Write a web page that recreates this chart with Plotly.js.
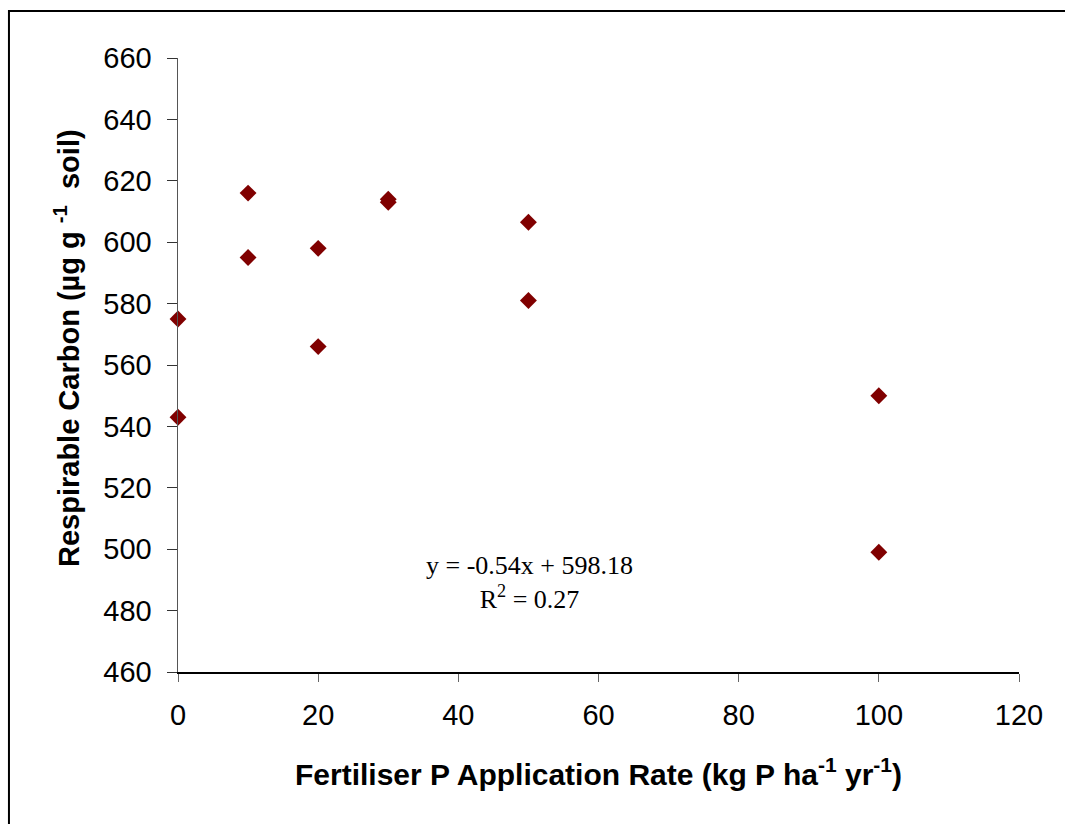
<!DOCTYPE html>
<html>
<head>
<meta charset="utf-8">
<script src="https://cdn.plot.ly/plotly-3.0.1.min.js"></script>
<style>html,body{margin:0;padding:0;background:#fff;}#chart{width:1065px;height:824px;}</style>
</head>
<body>
<div id="chart"></div>
<script>
const rateX = [0, 0, 10, 10, 20, 20, 30, 30, 50, 50, 100, 100];
const carbonY = [575, 543, 616, 595, 598, 566, 614, 613, 606.5, 581, 550, 499];
const xTicks = [0, 20, 40, 60, 80, 100, 120];
const yTicks = [460, 480, 500, 520, 540, 560, 580, 600, 620, 640, 660];
const eqText = "y = -0.54x + 598.18<br>R<sup>2</sup> = 0.27";
const xTitle = 'Fertiliser P Application Rate (kg P ha<sup>-1</sup>&nbsp;yr<sup>-1</sup>)';
const yTitle = 'Respirable Carbon (µg g&nbsp;<sup>-1</sup>&nbsp; soil)';

const trace = {
  x: rateX, y: carbonY, type: 'scatter', mode: 'markers',
  marker: {symbol: 'diamond', size: 13, color: '#800000', line: {width: 0}},
  hoverinfo: 'skip', showlegend: false, cliponaxis: false
};

const layout = {
  width: 1065, height: 824,
  margin: {l: 178, r: 46, t: 58, b: 152},
  paper_bgcolor: '#fff', plot_bgcolor: '#fff',
  font: {family: 'Liberation Sans, Arial, sans-serif', color: '#000'},
  xaxis: {
    range: [0, 120], tickvals: xTicks, ticktext: xTicks.map(String),
    showgrid: false, zeroline: false, showline: true, linecolor: '#000', linewidth: 1.5,
    ticks: 'outside', ticklen: 8, tickcolor: '#666', tickwidth: 1,
    ticklabelstandoff: 9,
    tickfont: {size: 29, family: 'Liberation Sans, Arial, sans-serif'},
    title: {text: xTitle,
            font: {size: 30, family: 'Liberation Sans, Arial, sans-serif', weight: 'bold'}, standoff: 33},
    automargin: false
  },
  yaxis: {
    range: [460, 660], tickvals: yTicks, ticktext: yTicks.map(String),
    showgrid: false, zeroline: false, showline: true, linecolor: '#555', linewidth: 1.5,
    ticks: 'outside', ticklen: 10, tickcolor: '#333', tickwidth: 1,
    ticklabelstandoff: 9,
    tickfont: {size: 29, family: 'Liberation Sans, Arial, sans-serif'},
    automargin: false
  },
  annotations: [{
    x: 50.2, y: 489, xref: 'x', yref: 'y', text: eqText, showarrow: false,
    font: {size: 26, family: 'Liberation Serif, Times New Roman, serif', color: '#000'},
    align: 'center'
  }, {
    x: -0.132, y: 0.5277, xref: 'paper', yref: 'paper', text: yTitle, showarrow: false,
    textangle: -90, xanchor: 'center', yanchor: 'middle',
    font: {size: 29, family: 'Liberation Sans, Arial, sans-serif', weight: 'bold', color: '#000'}
  }],
  shapes: [{
    type: 'path', xref: 'paper', yref: 'paper',
    path: 'M -0.201,-0.3 L -0.201,1.0765 L 1.06,1.0765',
    line: {color: '#000', width: 2}
  }]
};

Plotly.newPlot('chart', [trace], layout, {staticPlot: true, displayModeBar: false});
</script>
</body>
</html>
